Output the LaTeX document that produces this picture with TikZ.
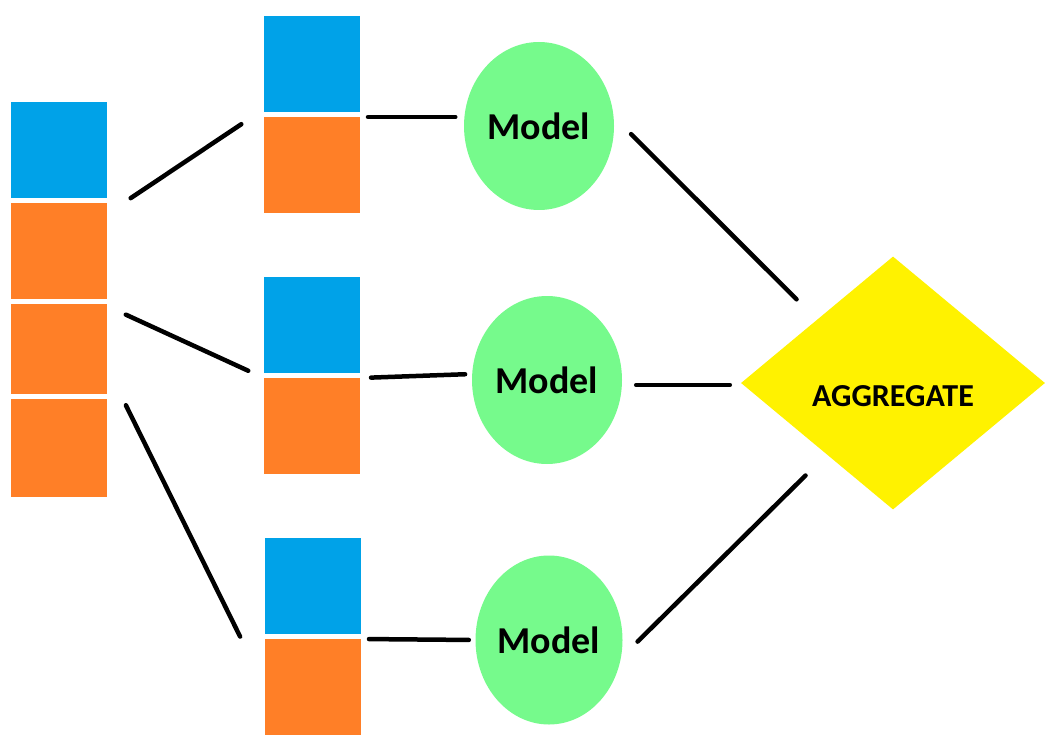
\documentclass[tikz,border=0pt]{standalone}
\usepackage{fontspec}
\setmainfont{Carlito}
\usetikzlibrary{shapes.geometric}

\definecolor{boxblue}{RGB}{0,162,232}
\definecolor{boxorange}{RGB}{255,127,39}
\definecolor{modelgreen}{RGB}{118,250,140}
\definecolor{aggyellow}{RGB}{255,242,0}

\begin{document}
\begin{tikzpicture}[x=1pt,y=-1pt,
    cell/.style={rectangle,minimum width=96pt,inner sep=0pt,outer sep=0pt},
    cellblue/.style={cell,fill=boxblue,minimum height=96pt},
    cellorange/.style={cell,fill=boxorange,minimum height=#1},
    cellorange/.default=96pt,
    model/.style={ellipse,fill=modelgreen,inner sep=0pt,minimum width=150pt,
      minimum height=168pt,font=\fontsize{38}{40}\selectfont\bfseries},
    agg/.style={diamond,fill=aggyellow,inner sep=0pt,aspect=1.2,
      minimum width=304pt,minimum height=253pt,text height=46pt,text depth=0pt,
      font=\fontsize{32}{34}\selectfont\bfseries},
    link/.style={line width=4.5pt,line cap=round}]
  \useasboundingbox (0,0) rectangle (1064,751);
  \node[cellblue] (L1) at (59,150) {};
  \node[cellorange] (L2) at (59,251) {};
  \node[cellorange=90pt] (L3) at (59,349) {};
  \node[cellorange=98pt] (L4) at (59,448) {};
  \node[cellblue] (M1b) at (312,64) {};
  \node[cellorange] (M1o) at (312,165) {};
  \node[cellblue] (M2b) at (312,325) {};
  \node[cellorange] (M2o) at (312,426) {};
  \node[cellblue] (M3b) at (313,586) {};
  \node[cellorange] (M3o) at (313,687) {};
  \node[model] (E1) at (539,126) {Model};
  \node[model] (E2) at (547,380) {Model};
  \node[model,minimum width=147pt,minimum height=169pt] (E3) at (549,640) {Model};
  \node[agg] (A) at (893,383) {AGGREGATE};
  \path[link] ([yshift=-11pt]L2.north east) edge [shorten <=28.5pt,shorten >=27.3pt] ([yshift=3pt]M1b.south west)
  ([yshift=-2pt]L3.north east) edge [shorten <=20.7pt,shorten >=17.4pt] (M2o.north west)
  ([yshift=-18pt]L3.east) edge [shorten <=42.7pt,shorten >=56.2pt] (M3o.west)
  (M1o.north east) edge [shorten <=8pt,shorten >=8.5pt] (M1o.north east -| E1.west)
  (M2o.north east) edge [shorten <=11pt,shorten >=6.7pt] ([yshift=6pt]E2.west)
  (M3o.north east) edge [shorten <=8pt,shorten >=6.5pt] (E3.west)
  (E1.7) edge [shorten <=24.5pt,shorten >=28.8pt] (A.north west)
  ([yshift=-5pt]E2.east) edge [shorten <=14pt,shorten >=11pt] ([yshift=-2pt]A.west)
  (E3.-14) edge [shorten <=23.3pt,shorten >=30.1pt] ([xshift=10pt,yshift=-8pt]A.south west)
  ;
\end{tikzpicture}
\end{document}
